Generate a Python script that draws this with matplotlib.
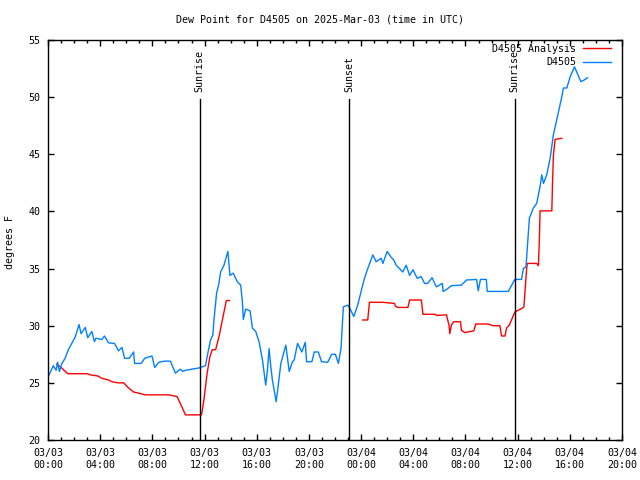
import matplotlib
matplotlib.use("Agg")
import matplotlib.pyplot as plt

# hours since 2025-03-03 00:00 UTC
obs_hours = [0.08, 0.41, 0.62, 0.74, 0.87, 1.05, 1.31, 1.56, 1.82, 2.08, 2.38, 2.54, 2.85, 3.05, 3.36,
             3.56, 3.67, 4.13, 4.33, 4.64, 5.10, 5.41, 5.67, 5.87, 6.23, 6.56, 6.64, 7.15, 7.41, 7.97,
             8.18, 8.49, 8.95, 9.38, 9.77, 10.15, 10.33, 10.54, 11.05, 11.56, 11.82, 12.08, 12.20, 12.46,
             12.64, 12.72, 12.92, 13.10, 13.23, 13.49, 13.79, 13.95, 14.20, 14.51, 14.77, 14.90, 14.97,
             15.15, 15.49, 15.67, 15.92, 16.18, 16.44, 16.69, 16.82, 16.95, 17.08, 17.20, 17.49, 17.64,
             17.85, 18.23, 18.49, 18.74, 18.87, 19.13, 19.46, 19.72, 19.82, 20.23, 20.41, 20.72, 20.97,
             21.44, 21.74, 22.03, 22.26, 22.46, 22.64, 22.98, 23.15, 23.44, 23.74, 24.00, 24.26, 24.51,
             24.90, 25.15, 25.54, 25.67, 26.00, 26.30, 26.50, 26.69, 26.95, 27.20, 27.46, 27.72, 27.98,
             28.30, 28.60, 28.87, 29.10, 29.44, 29.64, 29.77, 30.23, 30.28, 30.59, 30.92, 31.69, 32.08,
             32.85, 32.98, 33.15, 33.60, 33.67, 35.28, 35.79, 36.30, 36.44, 36.64, 36.74, 36.90, 37.20,
             37.46, 37.72, 37.85, 37.98, 38.23, 38.49, 38.74, 39.13, 39.38, 39.51, 39.77, 40.03, 40.36,
             40.85, 41.10, 41.36]
obs_dewpt = [25.7, 26.5, 26.1, 26.8, 26.0, 26.65, 27.15, 27.9, 28.45, 29.0, 30.1, 29.3, 29.85, 28.95, 29.5,
             28.6, 28.9, 28.8, 29.1, 28.5, 28.45, 27.8, 28.1, 27.15, 27.15, 27.7, 26.7, 26.7, 27.15, 27.35,
             26.35, 26.8, 26.9, 26.9, 25.85, 26.2, 26.0, 26.1, 26.2, 26.3, 26.4, 26.5, 27.3, 28.75,
             29.2, 30.5, 32.8, 33.7, 34.7, 35.3, 36.5, 34.4, 34.6, 33.85, 33.55, 32.1, 30.55,
             31.45, 31.3, 29.8, 29.5, 28.6, 27.0, 24.8, 26.1, 28.0, 26.4, 25.25, 23.35, 24.7,
             26.7, 28.3, 26.0, 26.85, 27.0, 28.45, 27.7, 28.55, 26.85, 26.85, 27.7, 27.7, 26.85,
             26.8, 27.5, 27.5, 26.7, 28.0, 31.65, 31.8, 31.5, 30.8, 31.8, 33.0, 34.15, 35.0,
             36.2, 35.6, 35.9, 35.45, 36.5, 36.0, 35.75, 35.3, 35.0, 34.7, 35.3, 34.4, 34.9,
             34.15, 34.3, 33.7, 33.7, 34.2, 33.7, 33.4, 33.7, 33.0, 33.2, 33.5, 33.55, 34.0,
             34.05, 33.05, 34.05, 34.05, 33.0, 33.0, 34.05, 34.05, 35.0, 35.15, 36.8, 39.4, 40.3,
             40.7, 42.2, 43.2, 42.45, 43.2, 44.65, 46.7, 48.7, 50.0, 50.8, 50.8, 51.8, 52.65,
             51.35, 51.5, 51.7]

ana1_hours = [0.67, 1.05, 1.51, 3.05, 3.23, 3.82, 4.13, 4.64, 4.90, 5.36, 5.80, 6.13, 6.56, 6.95, 7.46,
              9.26, 9.90, 10.54, 11.56, 11.77, 11.95, 12.20, 12.41, 12.59, 12.85, 13.10, 13.49, 13.67, 13.92]
ana1_dewpt = [26.65, 26.3, 25.8, 25.8, 25.7, 25.6, 25.4, 25.25, 25.1, 25.0, 25.0, 24.6, 24.2, 24.1, 23.95,
              23.95, 23.8, 22.2, 22.2, 22.2, 23.5, 25.85, 27.3, 27.9, 27.9, 29.0, 31.2, 32.2, 32.2]

ana2_hours = [24.13, 24.51, 24.64, 25.64, 26.56, 26.64, 26.82, 27.59, 27.72, 28.62, 28.74, 29.69, 29.77,
              30.54, 30.74, 30.80, 30.92, 31.10, 31.62, 31.69, 31.95, 32.64, 32.79, 33.74, 34.13, 34.64,
              34.77, 35.03, 35.15, 35.36, 35.79, 36.13, 36.44, 36.48, 36.69, 36.74, 37.46, 37.59, 37.67,
              37.72, 38.62, 38.67, 38.74, 38.87, 39.38]
ana2_dewpt = [30.5, 30.5, 32.05, 32.05, 31.95, 31.7, 31.6, 31.6, 32.25, 32.25, 31.0, 31.0, 30.9,
              30.95, 30.05, 29.3, 30.05, 30.35, 30.35, 29.6, 29.4, 29.55, 30.15, 30.15, 30.0, 30.0,
              29.1, 29.1, 29.8, 30.05, 31.2, 31.4, 31.6, 31.65, 35.0, 35.45, 35.45, 35.25, 37.7,
              40.05, 40.05, 42.3, 44.9, 46.3, 46.4]

sun_hours = [11.62, 23.10, 35.78]
sun_labels = ["Sunrise", "Sunset", "Sunrise"]

tick_hours = [0, 4, 8, 12, 16, 20, 24, 28, 32, 36, 40, 44]
tick_labels = ["03/03\n00:00", "03/03\n04:00", "03/03\n08:00", "03/03\n12:00", "03/03\n16:00",
               "03/03\n20:00", "03/04\n00:00", "03/04\n04:00", "03/04\n08:00", "03/04\n12:00",
               "03/04\n16:00", "03/04\n20:00"]
y_ticks = [20, 25, 30, 35, 40, 45, 50, 55]

FS = 7.2
plt.rcParams['font.family'] = ['DejaVu Sans Mono']
plt.rcParams['font.size'] = FS

fig = plt.figure(figsize=(6.4, 4.8), dpi=100)
L, R, T, B = 48, 622, 40, 440
ax = fig.add_axes([L/640, 1 - B/480, (R-L)/640, (B-T)/480])

red = '#ff0000'
blue = '#0080ff'
ax.plot(ana1_hours, ana1_dewpt, color=red, lw=1.0, label='D4505 Analysis')
ax.plot(ana2_hours, ana2_dewpt, color=red, lw=1.0)
ax.plot(obs_hours, obs_dewpt, color=blue, lw=1.0, label='D4505')

for h, lab in zip(sun_hours, sun_labels):
    ax.plot([h, h], [20, 49.85], color='black', lw=1)
    ax.text(h, 50.45, lab, rotation=90, ha='center', va='bottom', fontsize=FS)

ax.set_xlim(0, 44)
ax.set_ylim(20, 55)
ax.set_xticks(tick_hours)
ax.set_xticklabels(tick_labels, linespacing=1.25)
ax.set_xticks(range(0, 45), minor=True)
ax.set_yticks(y_ticks)
ax.tick_params(which='both', direction='in', top=True, right=True, width=1)
ax.tick_params(which='major', length=4.5, pad=5.5)
ax.tick_params(which='minor', length=2.2)
for s in ax.spines.values():
    s.set_linewidth(1)

fig.text(10/640, 1 - 242/480, 'degrees F', rotation=90, ha='center', va='center', fontsize=FS)
fig.text(0.5, 1 - 20/480, 'Dew Point for D4505 on 2025-Mar-03 (time in UTC)', ha='center', va='center',
         fontsize=FS)

leg = ax.legend(loc='upper right', frameon=False, markerfirst=False, handlelength=2.8,
                borderaxespad=0.0, borderpad=0.0, labelspacing=0.35, handletextpad=0.7,
                bbox_to_anchor=((611 - L) / (R - L), 1 - 4 / 400))

fig.savefig('out.png', dpi=100)
